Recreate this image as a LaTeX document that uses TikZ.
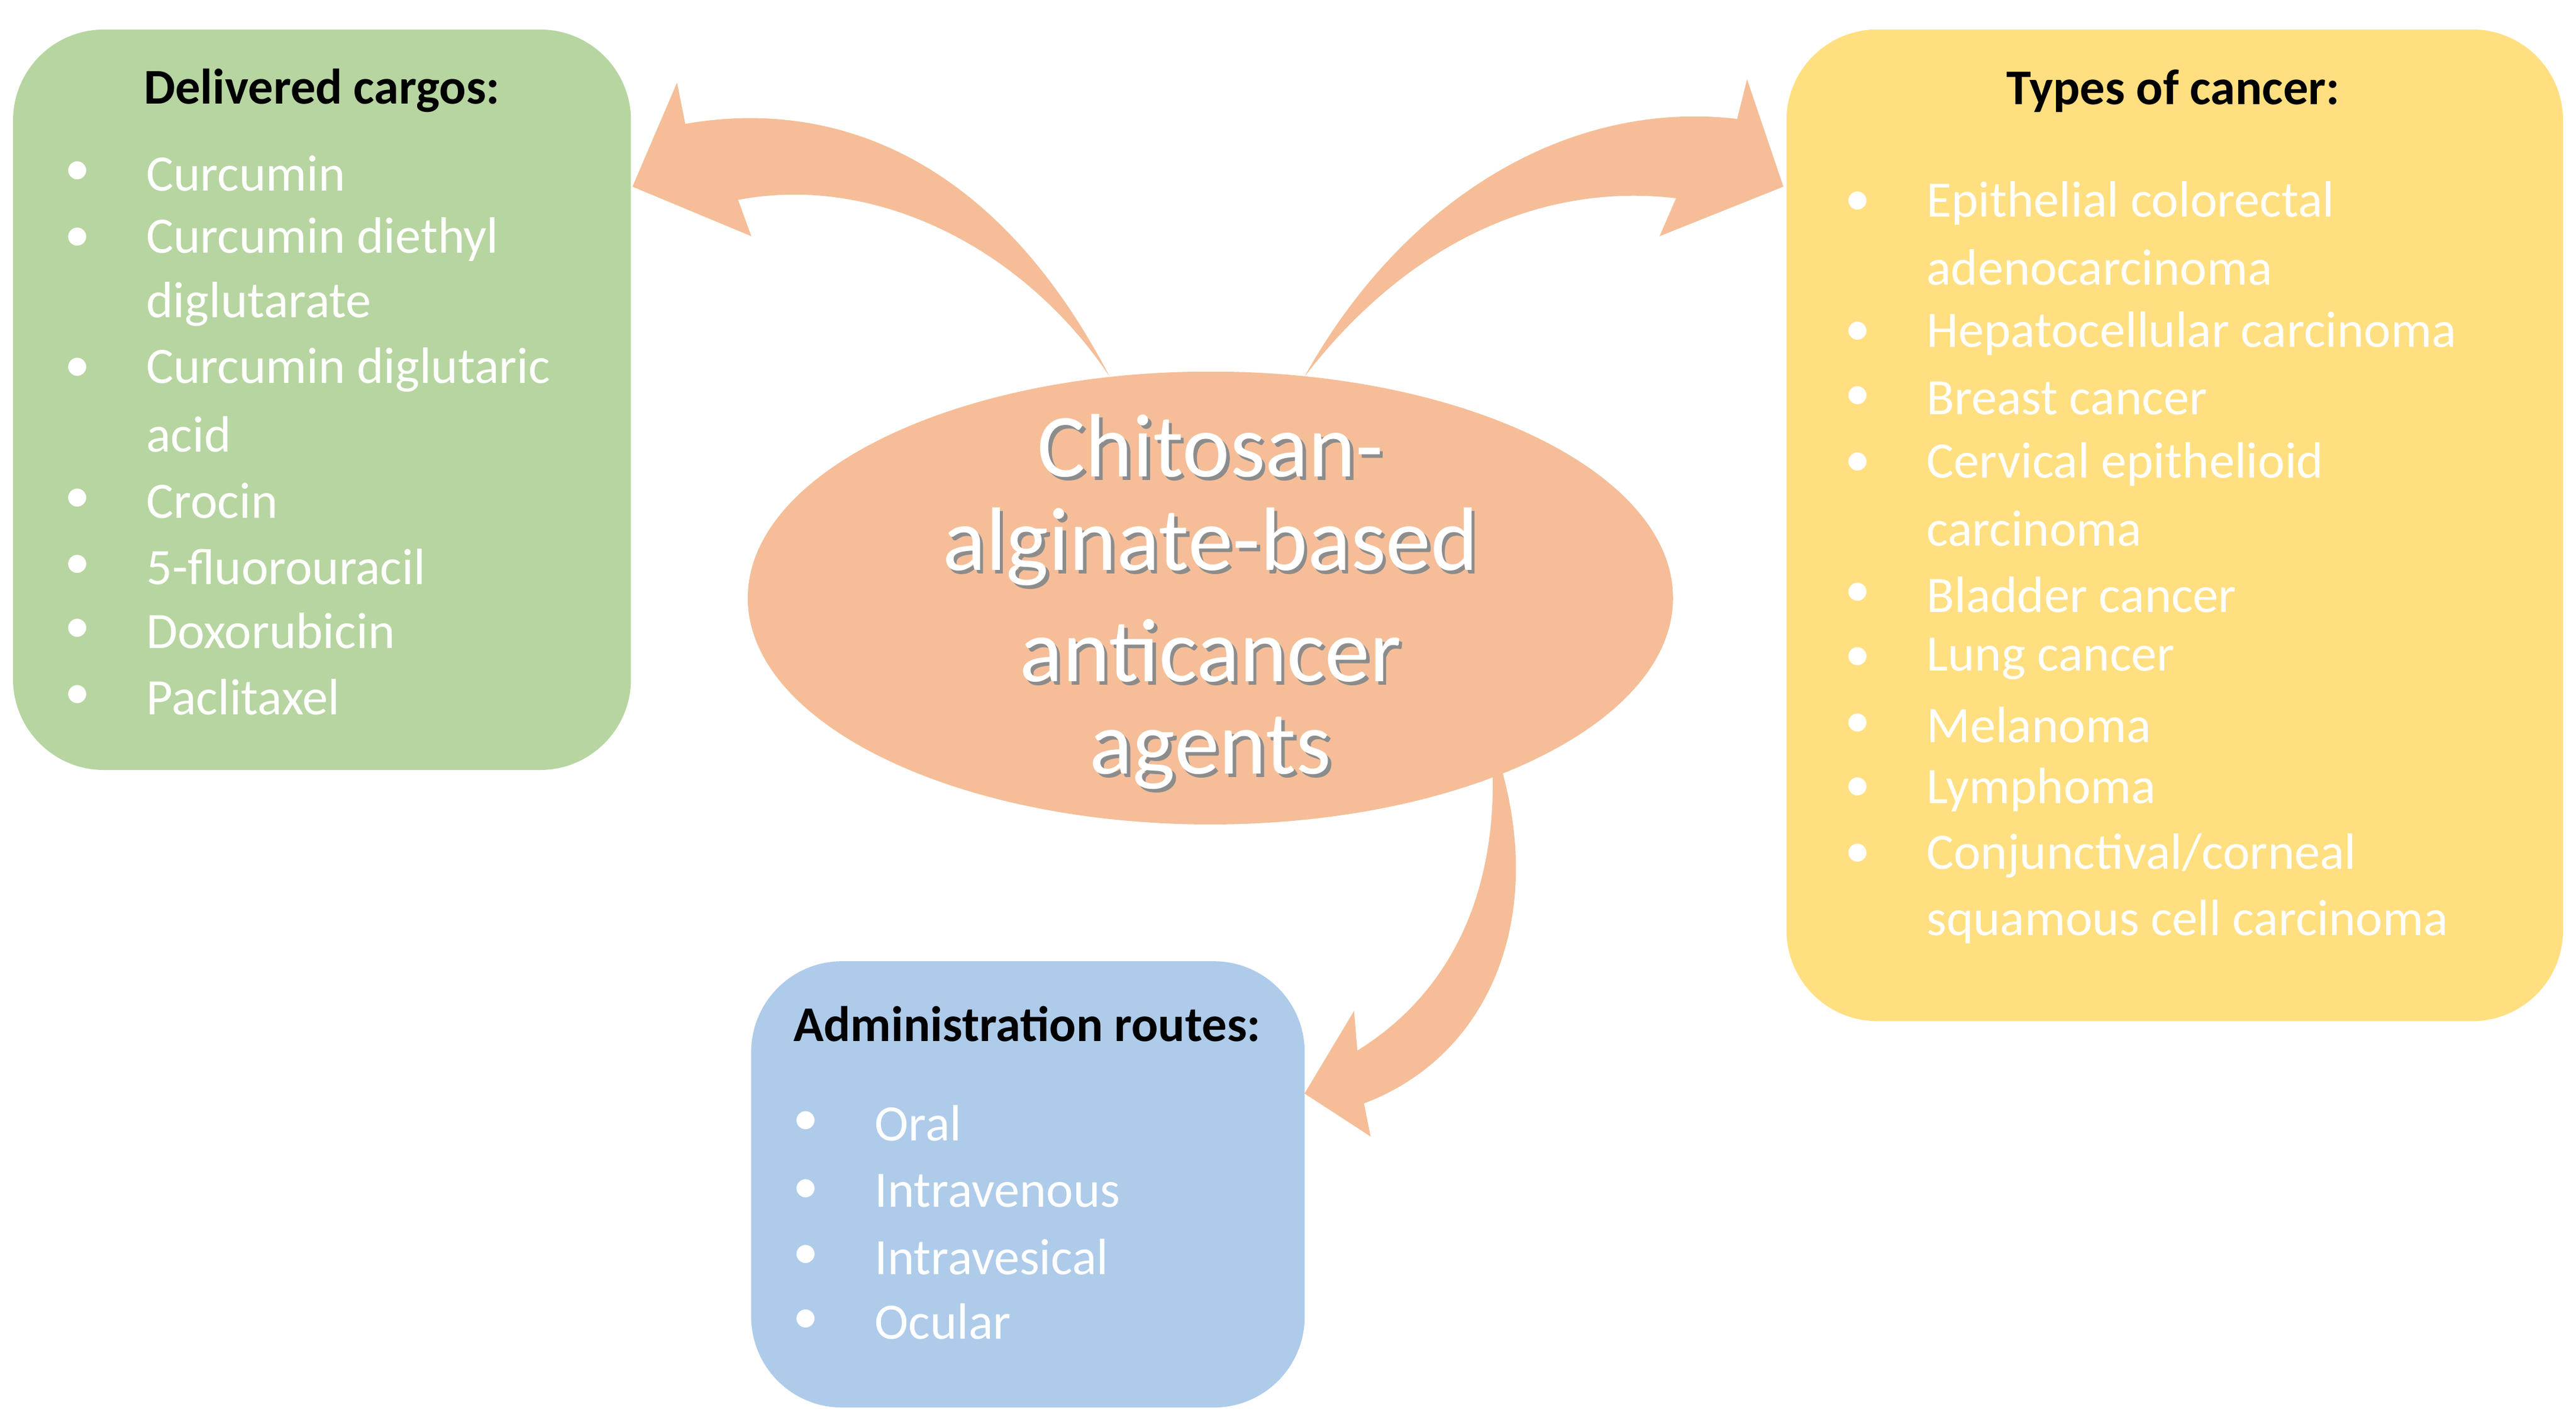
\documentclass[tikz,border=0pt]{standalone}
\usepackage{fontspec}
\setmainfont{Carlito}
\usetikzlibrary{shapes.geometric}
\definecolor{gbox}{HTML}{B7D5A0}
\definecolor{ybox}{HTML}{FFDF80}
\definecolor{bbox}{HTML}{AECBEA}
\definecolor{peach}{HTML}{F5BE98}
\tikzset{
 box/.style={rounded corners=0.55cm,inner sep=0},
 title/.style={font=\fontsize{8.6}{10}\selectfont\bfseries,text=black},
 item/.style={font=\fontsize{8.8}{10}\selectfont,text=white,anchor=west,inner sep=0},
 bul/.style={font=\fontsize{8.8}{10}\selectfont,text=white,inner sep=0},
 arr/.style={fill=peach,draw=none}
}
\begin{document}
\begin{tikzpicture}[x=0.01cm,y=-0.01cm]
\useasboundingbox (0,0) rectangle (1560,860);
\fill[white] (0,0) rectangle (1560,860);
% boxes
\node[box,fill=gbox,minimum width=3.74cm,minimum height=4.48cm] (g) at (195,242) {};
\node[box,fill=ybox,minimum width=4.70cm,minimum height=6.00cm] (y) at (1317,318) {};
\node[box,fill=bbox,minimum width=3.35cm,minimum height=2.70cm] (b) at (622.5,717) {};
% arrows
\fill[arr] (672,228) .. controls (600,90) and (500,60) .. (415,75) -- (410,50) -- (383,113) -- (455,143) -- (447,121) .. controls (530,105) and (620,150) .. (672,228) -- cycle;
\fill[arr] (790,228) .. controls (850,120) and (950,60) .. (1052,72) -- (1058,48) -- (1080,113) -- (1005,143) -- (1015,120) .. controls (930,110) and (850,150) .. (790,228) -- cycle;
\fill[arr] (910,468) .. controls (935,560) and (900,640) .. (826,668) -- (830,688) -- (790,662) -- (820,612) -- (822,636) .. controls (880,600) and (905,540) .. (904,470) -- cycle;
% ellipse
\node[ellipse,fill=peach,minimum width=5.60cm,minimum height=2.74cm,inner sep=0] (c) at (733,362) {};
\foreach \t/\yy in {Chitosan-/270,alginate-based/331,anticancer/394,agents/456}{
 \node[font=\fontsize{15.5}{18}\selectfont,text=black!45] at (735,\yy+2) {\t};
 \node[font=\fontsize{15.5}{18}\selectfont,text=white] at (733,\yy) {\t};
}
% green list
\node[title] (gt) at (195,55) {Delivered cargos:};
\foreach \n/\t/\yy/\bb in {1/Curcumin/105/1,2/Curcumin diethyl/145/1,3/diglutarate/184/0,4/Curcumin diglutaric/224/1,5/acid/263/0,6/Crocin/303/1,7/5-fluorouracil/343/1,8/Doxorubicin/382/1,9/Paclitaxel/422/1}{
 \node[item] (g\n) at (88,\yy) {\t};
 \ifnum\bb=1 \node[bul] (gb\n) at (47,\yy) {•};\fi
}
% yellow list
\node[title] (yt) at (1316,55) {Types of cancer:};
\foreach \n/\t/\yy/\bb in {1/Epithelial colorectal/123/1,2/adenocarcinoma/162/0,3/Hepatocellular carcinoma/202/1,4/Breast cancer/241/1,5/Cervical epithelioid/281/1,6/carcinoma/320/0,7/Bladder cancer/360/1,8/Lung cancer/399/1,9/Melanoma/439/1,10/Lymphoma/478/1,11/Conjunctival\slash corneal/518/1,12/squamous cell carcinoma/558/0}{
 \node[item] (y\n) at (1166,\yy) {\t};
 \ifnum\bb=1 \node[bul] (yb\n) at (1125,\yy) {•};\fi
}
% blue list
\node[title] (bt) at (622,620) {Administration routes:};
\foreach \n/\t/\yy in {1/Oral/680,2/Intravenous/721,3/Intravesical/761,4/Ocular/800}{
 \node[item] (b\n) at (529,\yy) {\t};
 \node[bul] (bb\n) at (488,\yy) {•};
}
\end{tikzpicture}
\end{document}
